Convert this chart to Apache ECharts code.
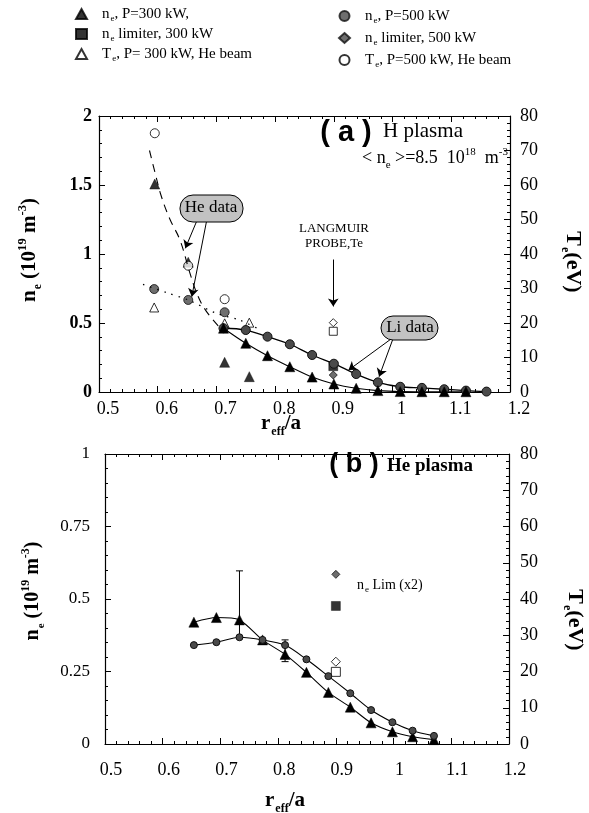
<!DOCTYPE html>
<html>
<head>
<meta charset="utf-8">
<script src="https://cdn.jsdelivr.net/npm/echarts@6/dist/echarts.min.js"></script>
<style>
  html, body { margin: 0; padding: 0; background: #fff; }
  #chart { width: 589px; height: 813px; }
</style>
</head>
<body>
<div id="chart"></div>
<script>
// ---- panel (a): H plasma ----
const aLiX = [0.712, 0.750, 0.787, 0.825, 0.863, 0.900, 0.938, 0.975, 1.013, 1.050, 1.088, 1.125, 1.160]
const aLiNe500 = [0.462, 0.449, 0.401, 0.346, 0.268, 0.205, 0.130, 0.070, 0.038, 0.030, 0.020, 0.010, 0.003]
const aLiNe300 = [0.462, 0.353, 0.263, 0.183, 0.108, 0.058, 0.027, 0.010, 0.003, 0.002, 0.002, 0.002, null]

const aHeNe300X = [0.595, 0.652, 0.714, 0.756]
const aHeNe300 = [1.507, 0.940, 0.215, 0.111]
const aHeNe500X = [0.594, 0.652, 0.714]
const aHeNe500 = [0.746, 0.667, 0.578]
const aTe300X = [0.594, 0.714, 0.756]
const aTe300 = [24.5, 19.9, 20.1]
const aTe500X = [0.595, 0.652, 0.714]
const aTe500 = [75, 36.6, 26.9]
const aLimX = 0.899
const aLimNe300 = 0.187
const aLimNe500 = 0.123
const aProbeTe500 = 20.1
const aProbeTe300 = 17.6

const aDashX = [0.586, 0.596, 0.606, 0.621, 0.638, 0.655, 0.668, 0.682, 0.703]
const aDashY = [1.75, 1.58, 1.42, 1.25, 1.10, 0.86, 0.70, 0.59, 0.48]
const aDotX = [0.575, 0.615, 0.652, 0.700, 0.740, 0.775]
const aDotY = [0.78, 0.72, 0.667, 0.57, 0.52, 0.45]

// ---- panel (b): He plasma ----
const bX = [0.654, 0.693, 0.733, 0.773, 0.812, 0.849, 0.887, 0.925, 0.961, 0.998, 1.033, 1.070]
const bTri = [0.420, 0.436, 0.428, 0.359, 0.309, 0.247, 0.178, 0.127, 0.073, 0.042, 0.025, 0.015]
const bCirc = [0.341, 0.351, 0.368, 0.359, 0.341, 0.292, 0.234, 0.175, 0.117, 0.075, 0.046, 0.028]
const bErr = [[0.733, 0.371, 0.597], [0.812, 0.284, 0.359]]
const bLimX = 0.9
const bLimDiamond = 0.585
const bLimSquare = 0.476
const bProbeDiamondTe = 22.7
const bProbeSquareTe = 19.9

const SERIF = 'Liberation Serif'
const zip = (xs, ys) => xs.map((x, i) => [x, ys[i]])

const filled = { color: '#000', borderColor: '#000', borderWidth: 0.5 }
const grey = { color: '#4a4a4a', borderColor: '#111', borderWidth: 1 }
const open = { color: '#fff', borderColor: '#000', borderWidth: 1 }

function xAxisOf (grid, top, shift) {
  return {
    type: 'value', gridIndex: grid, min: 0.5, max: 1.2, interval: 0.1,
    position: top ? 'top' : 'bottom',
    axisLine: { onZero: false, lineStyle: { color: '#000', width: 1.2 } },
    axisTick: { inside: true, length: 6, lineStyle: { color: '#000' } },
    minorTick: { show: true, splitNumber: 5, length: 3, lineStyle: { color: '#000' } },
    splitLine: { show: false },
    axisLabel: {
      show: !top, fontFamily: SERIF, fontSize: 18, color: '#000',
      margin: grid === 0 ? 8 : 17, padding: [0, 0, 0, shift * 2]
    }
  }
}
function yAxisOf (grid, right, max, interval, opts) {
  return {
    type: 'value', gridIndex: grid, min: 0, max: max, interval: interval,
    position: right ? 'right' : 'left',
    axisLine: { show: true, onZero: false, lineStyle: { color: '#000', width: 1.2 } },
    axisTick: { inside: true, length: 6, lineStyle: { color: '#000' } },
    minorTick: { show: true, splitNumber: 5, length: 3, lineStyle: { color: '#000' } },
    splitLine: { show: false },
    axisLabel: Object.assign({ fontFamily: SERIF, fontSize: 18, color: '#000' }, opts)
  }
}

const legendNames = {
  ne300: '{g|}{t|n}{s|e}{t|, P=300 kW,}',
  neLim300: '{g|}{t|n}{s|e}{t| limiter, 300 kW}',
  Te300: '{g|}{t|T}{s|e}{t|, P= 300 kW, He beam}',
  ne500: '{g|}{t|n}{s|e}{t|, P=500 kW}',
  neLim500: '{g|}{t|n}{s|e}{t| limiter, 500 kW}',
  Te500: '{g|}{t|T}{s|e}{t|, P=500 kW, He beam}'
}
const legendRich = {
  g: { width: 10 },
  t: { fontFamily: SERIF, fontSize: 15, lineHeight: 16, color: '#000' },
  s: { fontFamily: SERIF, fontSize: 9, lineHeight: 10, padding: [9, 0, 0, 1], color: '#000' }
}
function legendOf (left, top, gap, names) {
  return {
    orient: 'vertical', left: left, top: top, padding: 0, itemGap: gap,
    itemWidth: 11, itemHeight: 10, selectedMode: false,
    data: names,
    formatter: n => legendNames[n],
    textStyle: { rich: legendRich }
  }
}

const arrowLine = (a, b) => [{ coord: a }, { coord: b }]

const option = {
  backgroundColor: '#fff',
  animation: false,
  legend: [
    legendOf(75, 5, 2, ['ne300', 'neLim300', 'Te300']),
    legendOf(338, 7, 4, ['ne500', 'neLim500', 'Te500'])
  ],
  grid: [
    { left: 99, top: 116, width: 411, height: 276, outerBoundsMode: 'none' },
    { left: 105, top: 454, width: 404, height: 290, outerBoundsMode: 'none' }
  ],
  xAxis: [xAxisOf(0, false, 9), xAxisOf(0, true, 0), xAxisOf(1, false, 6), xAxisOf(1, true, 0)],
  yAxis: [
    yAxisOf(0, false, 2, 0.5, { fontWeight: 'bold', margin: 7 }),
    yAxisOf(0, true, 80, 10, { margin: 10 }),
    yAxisOf(1, false, 1, 0.25, { fontSize: 17, margin: 15 }),
    yAxisOf(1, true, 80, 10, { margin: 11 })
  ],
  series: [
    // (a) fits
    {
      name: 'heDash', type: 'line', xAxisIndex: 0, yAxisIndex: 0, data: zip(aDashX, aDashY),
      smooth: 0.4, showSymbol: false, silent: true,
      lineStyle: { color: '#000', width: 1.1, type: [8, 6] },
      markLine: {
        silent: true, symbol: ['none', 'arrow'], symbolSize: 8,
        label: { show: false },
        lineStyle: { color: '#000', width: 1, type: 'solid' },
        data: [
          arrowLine([0.666, 1.234], [0.647, 1.041]),
          arrowLine([0.683, 1.234], [0.658, 0.691]),
          arrowLine([0.899, 0.96], [0.899, 0.62]),
          arrowLine([0.999, 0.389], [0.925, 0.159]),
          arrowLine([1.001, 0.389], [0.977, 0.111])
        ]
      }
    },
    {
      name: 'heDot', type: 'line', xAxisIndex: 0, yAxisIndex: 0, data: zip(aDotX, aDotY),
      smooth: 0.3, showSymbol: false, silent: true,
      lineStyle: { color: '#000', width: 1.3, type: [1.5, 6] }
    },
    // (a) Li beam profiles
    {
      name: 'liNe500', type: 'line', xAxisIndex: 0, yAxisIndex: 0, data: zip(aLiX, aLiNe500),
      smooth: 0.35, symbol: 'circle', symbolSize: 9, itemStyle: grey,
      lineStyle: { color: '#000', width: 1.3 }
    },
    {
      name: 'liNe300', type: 'line', xAxisIndex: 0, yAxisIndex: 0,
      data: zip(aLiX, aLiNe300).filter(p => p[1] !== null),
      smooth: 0.35, symbol: 'triangle', symbolSize: 10, itemStyle: filled,
      lineStyle: { color: '#000', width: 1.1 }
    },
    // (a) He beam points + limiter + probe
    { name: 'ne300', type: 'scatter', xAxisIndex: 0, yAxisIndex: 0, data: zip(aHeNe300X, aHeNe300), symbol: 'triangle', symbolSize: 10, itemStyle: filled },
    { name: 'neLim300', type: 'scatter', xAxisIndex: 0, yAxisIndex: 0, data: [[aLimX, aLimNe300]], symbol: 'rect', symbolSize: 9, itemStyle: filled },
    { name: 'Te300', type: 'scatter', xAxisIndex: 0, yAxisIndex: 1, data: zip(aTe300X, aTe300), symbol: 'triangle', symbolSize: 9, itemStyle: open },
    { name: 'ne500', type: 'scatter', xAxisIndex: 0, yAxisIndex: 0, data: zip(aHeNe500X, aHeNe500), symbol: 'circle', symbolSize: 9, itemStyle: grey },
    { name: 'neLim500', type: 'scatter', xAxisIndex: 0, yAxisIndex: 0, data: [[aLimX, aLimNe500]], symbol: 'diamond', symbolSize: 8, itemStyle: grey },
    { name: 'Te500', type: 'scatter', xAxisIndex: 0, yAxisIndex: 1, data: zip(aTe500X, aTe500), symbol: 'circle', symbolSize: 9, itemStyle: open },
    { name: 'probeA1', type: 'scatter', xAxisIndex: 0, yAxisIndex: 1, data: [[aLimX, aProbeTe500]], symbol: 'diamond', symbolSize: 8, itemStyle: open },
    { name: 'probeA2', type: 'scatter', xAxisIndex: 0, yAxisIndex: 1, data: [[aLimX, aProbeTe300]], symbol: 'rect', symbolSize: 8, itemStyle: open },

    // (b)
    {
      name: 'bTri', type: 'line', xAxisIndex: 2, yAxisIndex: 2, data: zip(bX, bTri),
      smooth: 0.25, symbol: 'triangle', symbolSize: 10, itemStyle: filled,
      lineStyle: { color: '#000', width: 1.1 }
    },
    {
      name: 'bCirc', type: 'line', xAxisIndex: 2, yAxisIndex: 2, data: zip(bX, bCirc),
      smooth: 0.25, symbol: 'circle', symbolSize: 7, itemStyle: grey,
      lineStyle: { color: '#000', width: 1.1 }
    },
    {
      name: 'bErr', type: 'custom', xAxisIndex: 2, yAxisIndex: 2, data: bErr,
      encode: { x: 0, y: [1, 2] }, silent: true,
      renderItem: function (params, api) {
        const x = api.value(0)
        const lo = api.coord([x, api.value(1)])
        const hi = api.coord([x, api.value(2)])
        const st = { stroke: '#000', lineWidth: 1 }
        return {
          type: 'group',
          children: [
            { type: 'line', shape: { x1: lo[0], y1: lo[1], x2: hi[0], y2: hi[1] }, style: st },
            { type: 'line', shape: { x1: hi[0] - 3.5, y1: hi[1], x2: hi[0] + 3.5, y2: hi[1] }, style: st },
            { type: 'line', shape: { x1: lo[0] - 3.5, y1: lo[1], x2: lo[0] + 3.5, y2: lo[1] }, style: st }
          ]
        }
      }
    },
    { name: 'bLim1', type: 'scatter', xAxisIndex: 2, yAxisIndex: 2, data: [[bLimX, bLimDiamond]], symbol: 'diamond', symbolSize: 8, itemStyle: grey },
    { name: 'bLim2', type: 'scatter', xAxisIndex: 2, yAxisIndex: 2, data: [[bLimX, bLimSquare]], symbol: 'rect', symbolSize: 9, itemStyle: filled },
    { name: 'bProbe1', type: 'scatter', xAxisIndex: 2, yAxisIndex: 3, data: [[bLimX, bProbeDiamondTe]], symbol: 'diamond', symbolSize: 9, itemStyle: open },
    { name: 'bProbe2', type: 'scatter', xAxisIndex: 2, yAxisIndex: 3, data: [[bLimX, bProbeSquareTe]], symbol: 'rect', symbolSize: 9, itemStyle: open }
  ],
  graphic: [
    // panel (a) texts
    { type: 'text', x: 346, y: 133, style: { text: '( a )', font: 'bold 29px "Liberation Sans"', fill: '#000', align: 'center', verticalAlign: 'middle' } },
    { type: 'text', x: 423, y: 131, style: { text: 'H plasma', font: '21px "Liberation Serif"', fill: '#000', align: 'center', verticalAlign: 'middle' } },
    {
      type: 'text', x: 435, y: 158,
      style: {
        text: '{t|< n}{s|e}{t| >=8.5  10}{p|18}{t|  m}{p|-3}', align: 'center', verticalAlign: 'middle',
        rich: {
          t: { fontFamily: SERIF, fontSize: 18, fill: '#000' },
          s: { fontFamily: SERIF, fontSize: 11, padding: [14, 0, 0, 0], fill: '#000' },
          p: { fontFamily: SERIF, fontSize: 11, padding: [0, 0, 12, 0], fill: '#000' }
        }
      }
    },
    { type: 'text', x: 334, y: 229, style: { text: 'LANGMUIR', font: '13px "Liberation Serif"', fill: '#000', align: 'center', verticalAlign: 'middle' } },
    { type: 'text', x: 334, y: 244, style: { text: 'PROBE,Te', font: '13px "Liberation Serif"', fill: '#000', align: 'center', verticalAlign: 'middle' } },
    { type: 'rect', shape: { x: 180, y: 195, width: 63, height: 27, r: 13 }, style: { fill: '#c2c2c2', stroke: '#000', lineWidth: 1 }, z: 50 },
    { type: 'text', x: 211, y: 208, z: 51, style: { text: 'He data', font: '17px "Liberation Serif"', fill: '#000', align: 'center', verticalAlign: 'middle' } },
    { type: 'rect', shape: { x: 381, y: 316, width: 57, height: 24, r: 12 }, style: { fill: '#c2c2c2', stroke: '#000', lineWidth: 1 }, z: 50 },
    { type: 'text', x: 410, y: 328, z: 51, style: { text: 'Li data', font: '17px "Liberation Serif"', fill: '#000', align: 'center', verticalAlign: 'middle' } },

    // panel (b) texts
    { type: 'text', x: 354, y: 465, style: { text: '( b )', font: 'bold 27px "Liberation Sans"', fill: '#000', align: 'center', verticalAlign: 'middle' } },
    { type: 'text', x: 430, y: 466, style: { text: 'He plasma', font: 'bold 19px "Liberation Serif"', fill: '#000', align: 'center', verticalAlign: 'middle' } },
    {
      type: 'text', x: 357, y: 585,
      style: {
        text: '{t|n}{s|e}{t| Lim (x2)}', align: 'left', verticalAlign: 'middle',
        rich: {
          t: { fontFamily: SERIF, fontSize: 14, fill: '#000' },
          s: { fontFamily: SERIF, fontSize: 9, padding: [10, 0, 0, 1], fill: '#000' }
        }
      }
    },

    // axis titles
    ...[[30, 250, 21], [33, 591, 20]].map(([x, y, fs]) => ({
      type: 'text', x: x, y: y, rotation: Math.PI / 2,
      style: {
        text: '{t|n}{s|e}{t| (10}{p|19}{t| m}{p|-3}{t|)}', align: 'center', verticalAlign: 'middle',
        rich: {
          t: { fontFamily: SERIF, fontWeight: 'bold', fontSize: fs, fill: '#000' },
          s: { fontFamily: SERIF, fontWeight: 'bold', fontSize: fs * 0.55, padding: [16, 0, 0, 1], fill: '#000' },
          p: { fontFamily: SERIF, fontWeight: 'bold', fontSize: fs * 0.6, padding: [0, 0, 14, 0], fill: '#000' }
        }
      }
    })),
    ...[[573, 262], [575, 620]].map(([x, y]) => ({
      type: 'text', x: x, y: y, rotation: -Math.PI / 2,
      style: {
        text: '{t|T}{s|e}{t|(eV)}', align: 'center', verticalAlign: 'middle',
        rich: {
          t: { fontFamily: SERIF, fontWeight: 'bold', fontSize: 22, fill: '#000' },
          s: { fontFamily: SERIF, fontWeight: 'bold', fontSize: 12, padding: [16, 0, 0, 1], fill: '#000' }
        }
      }
    })),
    ...[[281, 424], [285, 801]].map(([x, y]) => ({
      type: 'text', x: x, y: y,
      style: {
        text: '{t|r}{s|eff}{t|/a}', align: 'center', verticalAlign: 'middle',
        rich: {
          t: { fontFamily: SERIF, fontWeight: 'bold', fontSize: 21, fill: '#000' },
          s: { fontFamily: SERIF, fontWeight: 'bold', fontSize: 12, padding: [16, 0, 0, 1], fill: '#000' }
        }
      }
    }))
  ]
}

const myChart = echarts.init(document.getElementById('chart'))
myChart.setOption(option)
</script>
</body>
</html>
